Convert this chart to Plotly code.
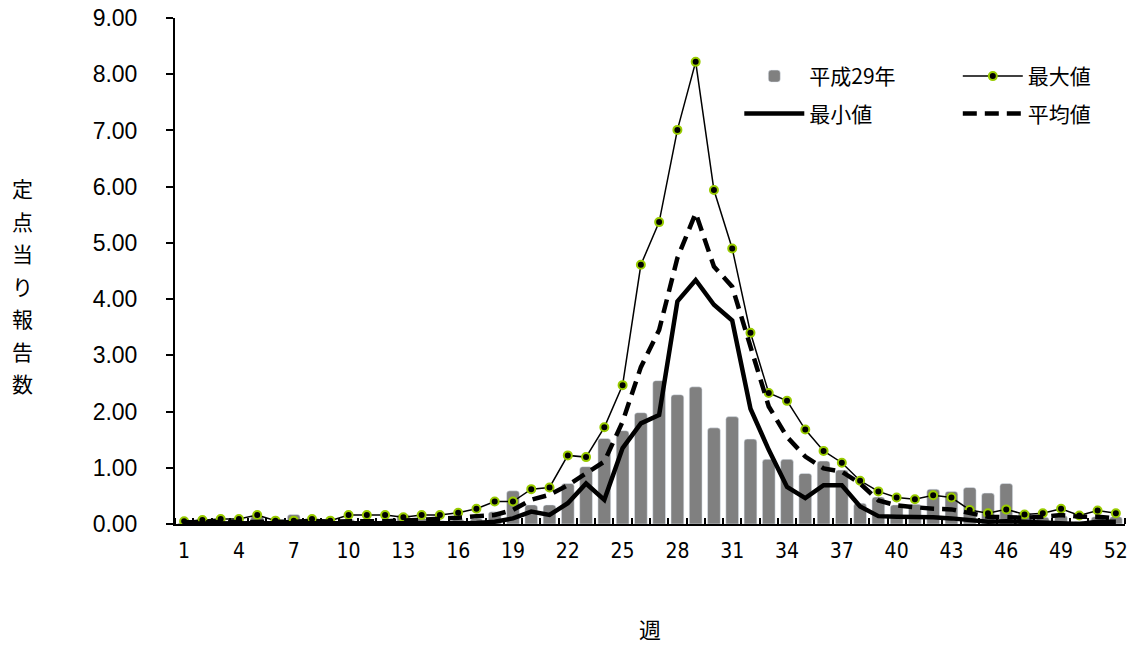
import plotly.graph_objects as go

weeks = list(range(1, 53))

h29 = [0.02, 0.10, 0.03, 0.03, 0.15, 0.03, 0.17, 0.08, 0.03, 0.08,
       0.08, 0.06, 0.17, 0.10, 0.06, 0.08, 0.10, 0.22, 0.59, 0.34,
       0.34, 0.72, 1.02, 1.52, 1.66, 1.98, 2.55, 2.30, 2.44, 1.71,
       1.91, 1.51, 1.15, 1.15, 0.90, 1.12, 0.96, 0.37, 0.48, 0.34,
       0.35, 0.62, 0.58, 0.65, 0.55, 0.72, 0.21, 0.12, 0.15, 0.05,
       0.13, 0.13]

max_vals = [0.05, 0.07, 0.09, 0.09, 0.16, 0.06, 0.06, 0.09, 0.06, 0.16,
            0.16, 0.16, 0.12, 0.16, 0.16, 0.20, 0.27, 0.40, 0.40, 0.62,
            0.65, 1.22, 1.19, 1.72, 2.47, 4.61, 5.37, 7.01, 8.22, 5.94,
            4.90, 3.40, 2.33, 2.19, 1.68, 1.30, 1.09, 0.77, 0.58, 0.47,
            0.44, 0.51, 0.47, 0.25, 0.19, 0.26, 0.17, 0.19, 0.27, 0.15,
            0.24, 0.19]

min_vals = [0.01, 0.01, 0.01, 0.01, 0.02, 0.01, 0.01, 0.01, 0.01, 0.02,
            0.02, 0.02, 0.01, 0.02, 0.02, 0.02, 0.02, 0.04, 0.10, 0.22,
            0.16, 0.37, 0.72, 0.43, 1.35, 1.79, 1.94, 3.96, 4.34, 3.90,
            3.62, 2.05, 1.32, 0.66, 0.46, 0.69, 0.69, 0.31, 0.14, 0.13,
            0.13, 0.12, 0.10, 0.07, 0.04, 0.05, 0.04, 0.02, 0.02, 0.00,
            0.04, 0.04]

mean_vals = [0.03, 0.03, 0.04, 0.04, 0.05, 0.04, 0.04, 0.04, 0.04, 0.05,
             0.05, 0.05, 0.06, 0.07, 0.08, 0.11, 0.14, 0.16, 0.25, 0.43,
             0.52, 0.69, 0.90, 1.11, 1.82, 2.79, 3.45, 4.73, 5.53, 4.58,
             4.22, 3.15, 2.09, 1.55, 1.20, 0.99, 0.93, 0.72, 0.42, 0.33,
             0.29, 0.27, 0.26, 0.20, 0.13, 0.12, 0.11, 0.13, 0.16, 0.13,
             0.13, 0.10]

x_tick_vals = list(range(1, 53, 3))
y_tick_vals = [0, 1, 2, 3, 4, 5, 6, 7, 8, 9]
y_title = "定点当り報告数"
x_title = "週"

CJK = "Noto Sans CJK JP"
LAT = "Liberation Sans"

fig = go.Figure()
fig.add_trace(go.Bar(x=weeks, y=h29, name="平成29年", marker_color="#808080",
                     width=0.7, legend="legend", legendgroup="a"))
fig.add_trace(go.Scatter(x=weeks, y=max_vals, name="最大値", mode="lines+markers",
                         line=dict(color="black", width=1.5),
                         marker=dict(size=8, color="black",
                                     line=dict(color="#99CC00", width=2)),
                         legend="legend2", legendgroup="c"))
fig.add_trace(go.Scatter(x=weeks, y=min_vals, name="最小値", mode="lines",
                         line=dict(color="black", width=4.5),
                         legend="legend", legendgroup="b"))
fig.add_trace(go.Scatter(x=weeks, y=mean_vals, name="平均値", mode="lines",
                         line=dict(color="black", width=4.5, dash="14px,8px"),
                         legend="legend2", legendgroup="d"))

fig.update_layout(
    width=1133, height=650,
    margin=dict(l=175, r=8, t=18, b=126),
    plot_bgcolor="white", paper_bgcolor="white",
    barcornerradius=3,
    font=dict(family=LAT, color="black"),
    legend=dict(x=0.594, y=0.925, xanchor="left", yanchor="top",
                font=dict(family=CJK, size=21), bgcolor="rgba(0,0,0,0)",
                traceorder="grouped", tracegroupgap=7, itemwidth=60),
    legend2=dict(x=0.824, y=0.925, xanchor="left", yanchor="top",
                 font=dict(family=CJK, size=21), bgcolor="rgba(0,0,0,0)",
                 traceorder="grouped", tracegroupgap=7, itemwidth=60),
    showlegend=True,
)

fig.update_xaxes(
    range=[0.5, 52.5], tickmode="array", tickvals=x_tick_vals,
    ticktext=[str(v) for v in x_tick_vals],
    ticks="", showgrid=False, zeroline=False, automargin=False,
    showline=True, linecolor="black", linewidth=2,
    tickfont=dict(family="Liberation Sans Narrow, DejaVu Sans Condensed, Liberation Sans", size=21),
    ticklabelstandoff=7,
    minor=dict(tickvals=[v + 0.5 for v in range(0, 53)], ticks="inside",
               ticklen=6, tickwidth=1.5, tickcolor="black", showgrid=False),
    title=dict(text=x_title, font=dict(family=CJK, size=22), standoff=60),
)
fig.update_yaxes(
    range=[0, 9], tickmode="array", tickvals=y_tick_vals,
    ticktext=[f"{v:.2f}" for v in y_tick_vals],
    ticks="outside", ticklen=7, tickwidth=1.5, tickcolor="black",
    showgrid=False, zeroline=False, automargin=False,
    showline=True, linecolor="black", linewidth=2,
    tickfont=dict(family=LAT, size=23),
    ticklabelstandoff=24,
)

for i, ch in enumerate(y_title):
    ypix = 188 + i * 32.5
    fig.add_annotation(text=ch, xref="paper", yref="paper",
                       x=(22 - 175) / 950, y=1 - (ypix - 18) / 506,
                       showarrow=False, font=dict(family=CJK, size=21),
                       xanchor="center", yanchor="middle")

fig.write_html("out.html", config={"displayModeBar": False},
               post_script="document.body.style.margin='0';"
                           "document.body.style.overflow='hidden';")
